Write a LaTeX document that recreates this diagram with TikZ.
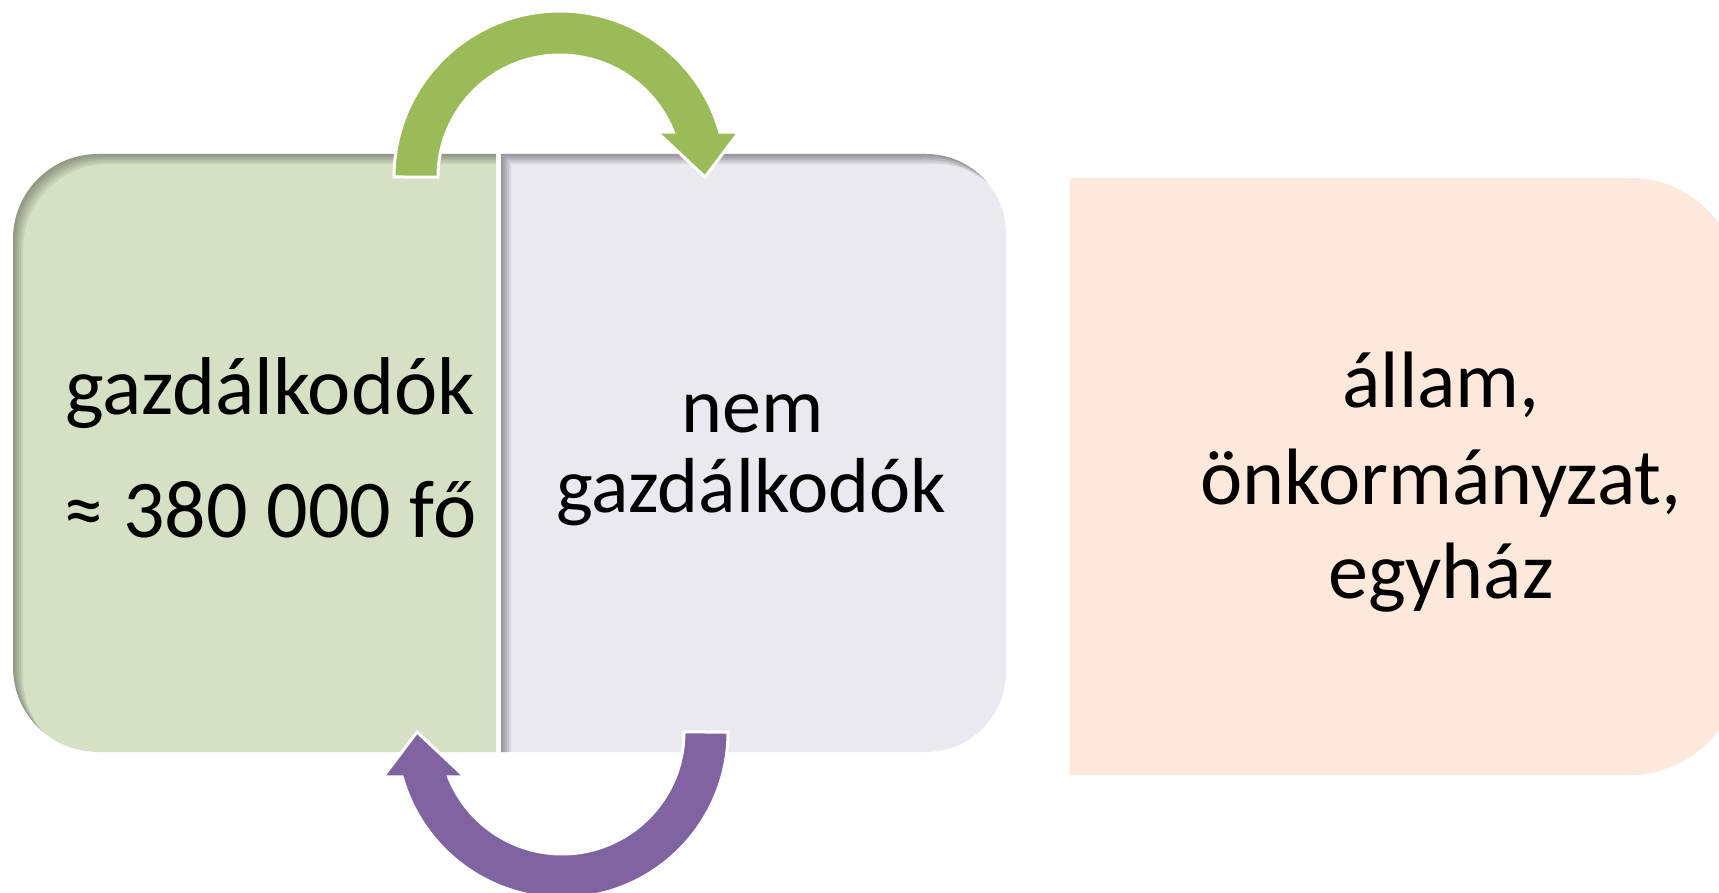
\documentclass[tikz,border=0pt]{standalone}
\usepackage{fontspec}
\setmainfont{Carlito}
\definecolor{gfill}{HTML}{D6E0C4}
\definecolor{lavfill}{HTML}{EBE9F0}
\definecolor{peachfill}{HTML}{FCE9DB}
\definecolor{garrow}{HTML}{9BBB59}
\definecolor{parrow}{HTML}{8064A2}
% box outlines, given by their first corner
\newcommand\greenoutline[2]{(#1,#2) -- ++(-398,0) arc[start angle=270,end angle=180,radius=85] -- ++(0,428) arc[start angle=180,end angle=90,radius=85] -- ++(398,0) -- cycle}
\newcommand\lavoutline[2]{(#1,#2) -- ++(425,0) arc[start angle=270,end angle=360,radius=80] -- ++(0,438) arc[start angle=0,end angle=90,radius=80] -- ++(-425,0) -- cycle}
\newcommand\peachoutline{(1070,178) -- ++(560,0) arc[start angle=270,end angle=360,radius=110] -- ++(0,377) arc[start angle=0,end angle=90,radius=110] -- ++(-560,0) -- cycle}
% curved block arrow over the top, head pointing down
\newcommand\arcarrow{(394,177) arc[start angle=180,end angle=344.3,radius=166] -- (739,132) -- (705,177) -- (657,132) -- (673.4,132.1) arc[start angle=338.4,end angle=180,radius=122] -- cycle}
\begin{document}
\begin{tikzpicture}[x=0.5pt,y=-0.5pt,
  lbl/.style={inner sep=0pt,anchor=base,text=black},
  bigtext/.style={font=\fontsize{41}{49}\selectfont},
  midtext/.style={font=\fontsize{39}{47}\selectfont},
  sidetext/.style={font=\fontsize{40}{48}\selectfont},
  blockarrow/.style={draw=white,line width=1.5pt,line join=miter}]
\useasboundingbox (0,0) rectangle (1719,893);
\clip (0,0) rectangle (1719,893);

% boxes
\fill[gfill] \greenoutline{496}{154};
\fill[lavfill] \lavoutline{501}{154};
\fill[peachfill] \peachoutline;

% inner shadows along the top and left edges
\begin{scope}
  \clip \greenoutline{496}{154};
  \foreach \s in {2,4,6,8,10}
    \fill[black,opacity=0.07,even odd rule] (-100,-100) rectangle (1900,1000) \greenoutline{496+\s}{154+\s};
\end{scope}
\begin{scope}
  \clip \lavoutline{501}{154};
  \foreach \s in {2,4,6,8,10}
    \fill[black,opacity=0.08,even odd rule] (-100,-100) rectangle (1900,1000) \lavoutline{501+\s}{154+\s};
\end{scope}

% texts
\node[lbl,bigtext] (gz1) at (270,415) {gazdálkodók};
\node[lbl,bigtext] (gz2) at (270,537) {≈ 380 000 fő};
\node[lbl,midtext] (ng1) at (753,432) {nem};
\node[lbl,midtext] (ng2) at (751,512) {gazdálkodók};
\node[lbl,sidetext] (al1) at (1441,408) {állam,};
\node[lbl,sidetext] (al2) at (1441,504) {önkormányzat,};
\node[lbl,sidetext] (al3) at (1441,598) {egyház};

% circular arrows between the two halves
\filldraw[garrow,blockarrow] \arcarrow;
\begin{scope}[rotate around={180:(561,454.5)}]
  \filldraw[parrow,blockarrow] \arcarrow;
\end{scope}
\end{tikzpicture}
\end{document}
